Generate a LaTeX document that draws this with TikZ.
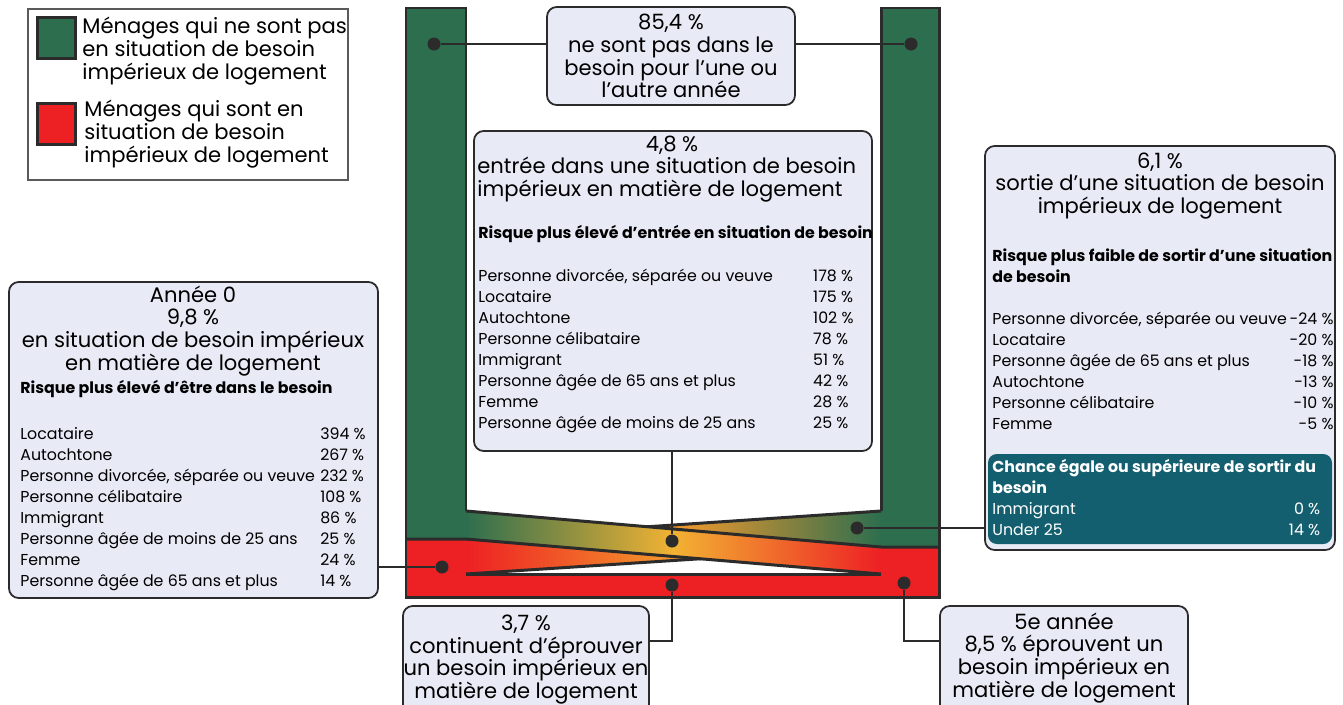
\documentclass[tikz,border=0pt]{standalone}
\usepackage{fontspec}
\usepackage{array}
\setmainfont{Poppins}
\usetikzlibrary{fit}
\definecolor{FlowGreen}{HTML}{2D6E4F}
\definecolor{FlowRed}{HTML}{ED2024}
\definecolor{FlowYellow}{HTML}{F2B233}
\definecolor{FlowOrange}{HTML}{F49A2C}
\definecolor{InkDark}{HTML}{2B2B2B}
\definecolor{InkGrey}{HTML}{5A5A5A}
\definecolor{BoxFill}{HTML}{E8EAF5}
\definecolor{BoxTeal}{HTML}{145F6F}
\newcommand{\bigtxt}{\fontsize{12}{13}\selectfont}
\newcommand{\smalltxt}{\fontsize{9}{12}\selectfont}
\tikzset{
  flowedge/.style={draw=InkDark, line width=1.7pt, line join=miter},
  infobox/.style={draw=InkDark, line width=1pt, fill=BoxFill, rounded corners=5.5pt, inner sep=0pt},
  tealbox/.style={fill=BoxTeal, rounded corners=5pt, inner sep=0pt},
  legendbox/.style={draw=InkGrey, line width=0.8pt, inner sep=0pt},
  swatch/.style={draw=InkDark, line width=1.6pt, minimum width=22pt, minimum height=23.5pt, inner sep=0pt},
  flowdot/.style={circle, fill=InkDark, minimum size=7.4pt, inner sep=0pt},
  link/.style={draw=InkDark, line width=1.6pt},
  btitle/.style={font=\bigtxt, align=center, inner sep=0pt},
  bleft/.style={font=\bigtxt, align=left, inner sep=0pt, anchor=west},
  rhead/.style={font=\smalltxt\bfseries, align=left, inner sep=0pt, anchor=west},
  rtable/.style={font=\smalltxt, inner sep=0pt, anchor=north west},
}

\begin{document}
\begin{tikzpicture}[x=0.02cm, y=-0.02cm]
\useasboundingbox (0,0) rectangle (1343,704);
\clip (0,0) rectangle (1343,704);

% legend
\node[legendbox, fit={(28,9) (348,180)}] (legend) {};
\node[swatch, fill=FlowGreen] (swgreen) at (56.5,38) {};
\node[swatch, fill=FlowRed] (swred) at (56.5,124) {};
\node[bleft] (lggreen) at (82,51) {Ménages qui ne sont pas\\en situation de besoin\\impérieux de logement};
\node[bleft] (lgred) at (84,134) {Ménages qui sont en\\situation de besoin\\impérieux de logement};

% flows
\fill[FlowGreen] (406,8) rectangle (466,539);
\fill[FlowGreen] (881,8) rectangle (939,547);
\fill[FlowRed] (406,539) rectangle (466,597);
\fill[FlowRed] (881,547) rectangle (939,597);
\fill[FlowRed] (466,574) rectangle (881,597);
\shade[left color=FlowRed, right color=FlowGreen, middle color=FlowOrange] (466,539) -- (881,511) -- (881,547) -- (466,574) -- cycle;
\draw[flowedge] (466,539) -- (881,511);
\draw[flowedge] (466,574) -- (881,547);
\shade[left color=FlowGreen, right color=FlowRed, middle color=FlowYellow] (466,511) -- (881,547) -- (881,574) -- (466,539) -- cycle;
\draw[flowedge] (466,511) -- (881,547) -- (939,547);
\draw[flowedge] (406,539) -- (466,539) -- (881,574);
\draw[flowedge] (466,574) -- (881,574);
\draw[flowedge] (466,511) -- (466,8) -- (406,8) -- (406,597) -- (939,597) -- (939,8) -- (881,8) -- (881,511);

\node[flowdot] (dgl) at (434,44) {};
\node[flowdot] (dgr) at (911,44) {};
\node[flowdot] (dent) at (672,541) {};
\node[flowdot] (dsor) at (857,528) {};
\node[flowdot] (dred) at (442,567) {};
\node[flowdot] (dstay) at (672,585) {};
\node[flowdot] (dyr5) at (904,583) {};

% boxes
\node[infobox, fit={(547,7) (795,105)}] (bnever) {};
\node[btitle] (tnever) at (bnever.center) {85,4 \%\\ne sont pas dans le\\besoin pour l’une ou\\l’autre année};

\node[infobox, fit={(474,131) (872,451)}] (bin) {};
\node[btitle] (tin) at (672,145) {4,8 \%};
\node[bleft] (tin2) at (477,180) {entrée dans une situation de besoin\\impérieux en matière de logement};
\node[rhead] (hin) at (478,234) {Risque plus élevé d’entrée en situation de besoin};
\node[rtable] (lin) at (478,266) {\begin{tabular}{@{}w{l}{190.6pt}@{}l@{}}
Personne divorcée, séparée ou veuve & 178 \%\\
Locataire & 175 \%\\
Autochtone & 102 \%\\
Personne célibataire & 78 \%\\
Immigrant & 51 \%\\
Personne âgée de 65 ans et plus & 42 \%\\
Femme & 28 \%\\
Personne âgée de moins de 25 ans & 25 \%
\end{tabular}};

\node[infobox, fit={(9,282) (378,598)}] (byr0) {};
\node[btitle] (tyr0) at (193,331) {Année 0\\9,8 \%\\en situation de besoin impérieux\\en matière de logement};
\node[rhead] (hyr0) at (20,389) {Risque plus élevé d’être dans le besoin};
\node[rtable] (lyr0) at (20,424) {\begin{tabular}{@{}w{l}{170.7pt}@{}l@{}}
Locataire & 394 \%\\
Autochtone & 267 \%\\
Personne divorcée, séparée ou veuve & 232 \%\\
Personne célibataire & 108 \%\\
Immigrant & 86 \%\\
Personne âgée de moins de 25 ans & 25 \%\\
Femme & 24 \%\\
Personne âgée de 65 ans et plus & 14 \%
\end{tabular}};

\node[infobox, fit={(985,146) (1335,550)}] (bout) {};
\node[btitle] (tout) at (1160,186) {6,1 \%\\sortie d’une situation de besoin\\impérieux de logement};
\node[rhead] (hout) at (992,265.5) {Risque plus faible de sortir d’une situation\\de besoin};
\node[rtable] (lout) at (992,309) {\begin{tabular*}{193.5pt}{@{}l@{\extracolsep{\fill}}r@{}}
Personne divorcée, séparée ou veuve\, & -24 \%\\
Locataire & -20 \%\\
Personne âgée de 65 ans et plus & -18 \%\\
Autochtone & -13 \%\\
Personne célibataire & -10 \%\\
Femme & -5 \%
\end{tabular*}};
\node[tealbox, fit={(988,454) (1332,544)}] (bteal) {};
\node[rtable, text=white] (lteal) at (992,457) {\begin{tabular*}{186.6pt}{@{}l@{\extracolsep{\fill}}r@{}}
\multicolumn{2}{@{}l@{}}{\bfseries Chance égale ou supérieure de sortir du}\\
\multicolumn{2}{@{}l@{}}{\bfseries besoin}\\
Immigrant & 0 \%\\
Under 25 & 14 \%
\end{tabular*}};

\node[infobox, fit={(403,606) (649,730)}] (bstay) {};
\node[btitle] (tstay) at (526,659.5) {3,7 \%\\continuent d’éprouver\\un besoin impérieux en\\matière de logement};
\node[infobox, fit={(940,606) (1188,730)}] (byr5) {};
\node[btitle] (tyr5) at (1064,658) {5e année\\8,5 \% éprouvent un\\besoin impérieux en\\matière de logement};

\coordinate (kstay) at (649,641);
\coordinate (kyr5) at (940,641);

% connectors
\draw[link] (dgl) -- (dgl -| bnever.west);
\draw[link] (dgr) -- (dgr -| bnever.east);
\draw[link] (dent) -- (dent |- bin.south);
\draw[link] (dsor) -- (dsor -| bout.west);
\draw[link] (dred) -- (dred -| byr0.east);
\draw[link] (dstay) |- (kstay);
\draw[link] (dyr5) |- (kyr5);
\end{tikzpicture}
\end{document}
